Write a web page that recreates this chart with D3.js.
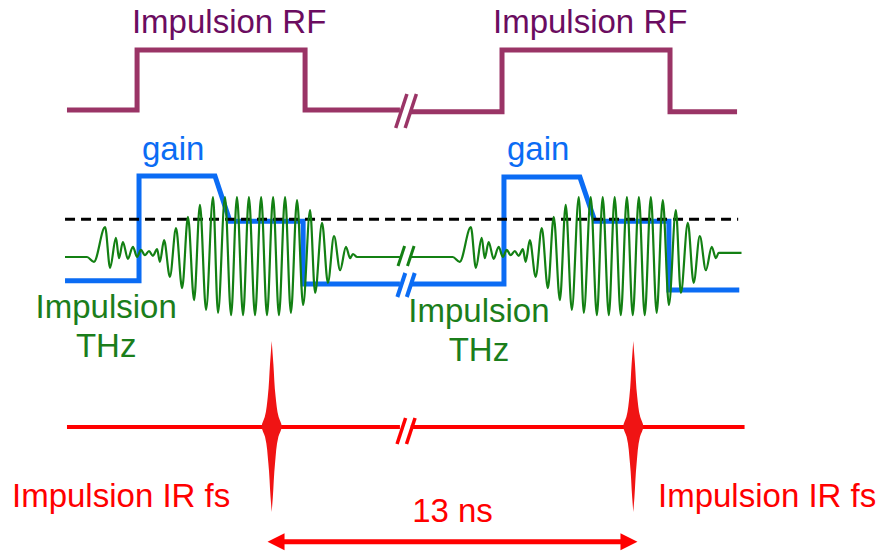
<!DOCTYPE html>
<html>
<head>
<meta charset="utf-8">
<script src="https://cdn.jsdelivr.net/npm/d3@7"></script>
<style>
  html, body { margin: 0; padding: 0; background: #fff; }
  svg { display: block; font-family: "Liberation Sans", Arial, Helvetica, sans-serif; }
</style>
</head>
<body>
<svg id="chart" width="878" height="554"></svg>
<script>
// time axis in ns (the IR pulses sit at 0 and 13 ns), levels are normalised
const irPulseTimes = [0, 13];
const breakTimes = [4.66, 5.0];
const gapTimes = [4.61, 5.0];

// RF pulse : step levels
const rfTime1 = [-7.36, -4.84, -4.84, 1.20, 1.20, 4.61];
const rfLevel1 = [0, 0, 1, 1, 0, 0];
const rfTime2 = [5.0, 8.28, 8.28, 14.32, 14.32, 16.73];
const rfLevel2 = [-0.03, -0.03, 1, 1, -0.03, -0.03];

// gain
const gainTime1 = [-7.43, -4.77, -4.77, -2.04, -1.50, 1.13, 1.13, 4.61];
const gainLevel1 = [0.03, 0.03, 1, 1, 0.58, 0.58, 0, 0];
const gainTime2 = [5.0, 8.35, 8.35, 11.08, 11.62, 14.28, 14.28, 16.81];
const gainLevel2 = [0, 0, 0.99, 0.99, 0.58, 0.58, -0.056, -0.056];
const thresholdLevel = 0.60;
const thresholdSpan = [-7.43, 16.77];

// THz pulse : extrema of the waveform (first period)
const thzTime = [-6.64, -6.39, -5.99, -5.81, -5.60, -5.49, -5.35, -5.17, -4.99, -4.84,
  -4.70, -4.56, -4.41, -4.27, -4.12, -4.02, -3.87, -3.66, -3.44, -3.22,
  -3.01, -2.79, -2.58, -2.36, -2.11, -1.93, -1.68, -1.46, -1.25, -1.03,
  -0.82, -0.60, -0.38, -0.17, 0.05, 0.26, 0.48, 0.69, 0.91, 1.13,
  1.38, 1.56, 1.81, 2.02, 2.24, 2.46, 2.67, 2.82, 2.92, 3.07];
const thzAmp = [0, -0.08, 0.5, -0.18, 0.32, -0.02, 0.25, -0.03, 0.17, 0,
  0.12, 0.03, 0.1, 0.02, 0.13, -0.08, 0.28, -0.33, 0.48, -0.52,
  0.67, -0.72, 0.87, -0.88, 1.0, -0.93, 1.0, -0.97, 1.0, -0.97,
  1.0, -0.97, 1.0, -0.97, 1.0, -0.97, 1.0, -0.93, 0.95, -0.8,
  0.78, -0.6, 0.57, -0.43, 0.35, -0.22, 0.17, -0.02, 0.05, 0];
const thzPeriod = 13.15;
const thzSpan = [-7.43, 16.89];
const thzTailLevel2 = 0.07;

// femtosecond IR pulse envelope
const irEnvAmp = [1, 0.73, 0.35, 0.11, 0, -0.12, -0.43, -0.83, -1];
const irEnvHalf = [0, 0.06, 0.14, 0.25, 0.36, 0.24, 0.12, 0.04, 0];
const irSpan = [-7.36, 17.0];
const arrowSpan = [-0.15, 13.15];

const purple = '#9a3466', purpleText = '#6b0c60';
const blue = '#0b6cf4', green = '#138013', greenText = '#1b7e1b', red = '#ff0000';
const fontSize = 33;

const svg = d3.select('#chart');
const x = d3.scaleLinear().domain([0, 13]).range([271.7, 633.3]);
const yRF = d3.scaleLinear().domain([0, 1]).range([110, 50]);
const yGain = d3.scaleLinear().domain([0, 1]).range([284, 176]);
const yThz = d3.scaleLinear().domain([-1, 1]).range([317, 197]);
const yIR = d3.scaleLinear().domain([-1, 1]).range([512, 341]);
const yIRLine = 427;
const yArrow = 541.7;

const zip = (ts, vs) => ts.map((t, i) => [t, vs[i]]);

function breakMarks(yc, h, color, w) {
  svg.append('g')
    .attr('stroke', color)
    .attr('stroke-width', w)
    .selectAll('line')
    .data(breakTimes)
    .join('line')
    .attr('x1', t => x(t) - h * 0.33)
    .attr('x2', t => x(t) + h * 0.33)
    .attr('y1', yc + h)
    .attr('y2', yc - h);
}

// RF
const rfLine = d3.line().x(d => x(d[0])).y(d => yRF(d[1]));
[zip(rfTime1, rfLevel1), zip(rfTime2, rfLevel2)].forEach(seg => {
  svg.append('path').attr('d', rfLine(seg))
    .attr('fill', 'none').attr('stroke', purple).attr('stroke-width', 5)
    .attr('stroke-linejoin', 'miter');
});
breakMarks(yRF(0) + 1, 17, purple, 3.5);

svg.append('g')
  .attr('fill', purpleText)
  .attr('font-size', fontSize)
  .attr('text-anchor', 'middle')
  .selectAll('text')
  .data([-1.53, 11.45])
  .join('text')
  .attr('x', d => x(d))
  .attr('y', 33)
  .text('Impulsion RF');

// gain
const gainLine = d3.line().x(d => x(d[0])).y(d => yGain(d[1]));
[zip(gainTime1, gainLevel1), zip(gainTime2, gainLevel2)].forEach(seg => {
  svg.append('path').attr('d', gainLine(seg))
    .attr('fill', 'none').attr('stroke', blue).attr('stroke-width', 5)
    .attr('stroke-linejoin', 'miter');
});
breakMarks(yGain(0) + 1, 12, blue, 4);

svg.append('g')
  .attr('fill', blue)
  .attr('font-size', fontSize)
  .selectAll('text')
  .data([gainTime1[1], gainTime2[1]])
  .join('text')
  .attr('x', d => x(d) + 3)
  .attr('y', 160)
  .text('gain');

// threshold
svg.append('line')
  .attr('x1', x(thresholdSpan[0])).attr('x2', x(thresholdSpan[1]))
  .attr('y1', yGain(thresholdLevel)).attr('y2', yGain(thresholdLevel))
  .attr('stroke', '#000').attr('stroke-width', 3)
  .attr('stroke-dasharray', '10,6');

// THz
const thz1 = [[thzSpan[0], 0], ...zip(thzTime, thzAmp), [gapTimes[0], 0]];
const thz2 = [[gapTimes[1], 0],
  ...zip(thzTime, thzAmp).map(([t, a], i, arr) => [t + thzPeriod, i >= arr.length - 2 ? thzTailLevel2 : a]),
  [thzSpan[1], thzTailLevel2]];
const thzLine = d3.line().x(d => x(d[0])).y(d => yThz(d[1])).curve(d3.curveMonotoneX);
[thz1, thz2].forEach(seg => {
  svg.append('path').attr('d', thzLine(seg))
    .attr('fill', 'none').attr('stroke', green).attr('stroke-width', 2.2);
});
breakMarks(yThz(0) - 1, 10, green, 3);

const thzLabels = [{ t: -5.95, dy: 0 }, { t: 7.45, dy: 4 }];
const thzText = svg.append('g').attr('fill', greenText).attr('font-size', fontSize).attr('text-anchor', 'middle');
thzLabels.forEach(d => {
  thzText.append('text').attr('x', x(d.t)).attr('y', 318 + d.dy).text('Impulsion');
  thzText.append('text').attr('x', x(d.t)).attr('y', 357 + d.dy).text('THz');
});

// IR fs line
svg.append('line')
  .attr('x1', x(irSpan[0])).attr('x2', x(gapTimes[0]))
  .attr('y1', yIRLine).attr('y2', yIRLine)
  .attr('stroke', red).attr('stroke-width', 4);
svg.append('line')
  .attr('x1', x(gapTimes[1])).attr('x2', x(irSpan[1]))
  .attr('y1', yIRLine).attr('y2', yIRLine)
  .attr('stroke', red).attr('stroke-width', 4);
breakMarks(yIRLine + 4, 13, red, 3.5);

const env = zip(irEnvAmp, irEnvHalf);
irPulseTimes.forEach(t0 => {
  const area = d3.area()
    .y(d => yIR(d[0]))
    .x0(d => x(t0 - d[1]))
    .x1(d => x(t0 + d[1]))
    .curve(d3.curveMonotoneY);
  svg.append('path').attr('d', area(env)).attr('fill', '#f01414');
});

svg.append('g')
  .attr('fill', red)
  .attr('font-size', fontSize)
  .selectAll('text')
  .data([12, 658])
  .join('text')
  .attr('x', d => d)
  .attr('y', 507)
  .text('Impulsion IR fs');

// 13 ns arrow
const headLen = 17, headHalf = 8.5;
const ax0 = x(arrowSpan[0]), ax1 = x(arrowSpan[1]);
svg.append('line')
  .attr('x1', ax0 + headLen - 2).attr('x2', ax1 - headLen + 2)
  .attr('y1', yArrow).attr('y2', yArrow)
  .attr('stroke', red).attr('stroke-width', 5);
svg.append('path')
  .attr('d', `M${ax0},${yArrow}L${ax0 + headLen},${yArrow - headHalf}L${ax0 + headLen},${yArrow + headHalf}Z` +
             `M${ax1},${yArrow}L${ax1 - headLen},${yArrow - headHalf}L${ax1 - headLen},${yArrow + headHalf}Z`)
  .attr('fill', red);
svg.append('text')
  .attr('x', x(d3.mean(irPulseTimes)))
  .attr('y', 522)
  .attr('text-anchor', 'middle')
  .attr('font-size', fontSize)
  .attr('fill', red)
  .text('13 ns');
</script>
</body>
</html>
